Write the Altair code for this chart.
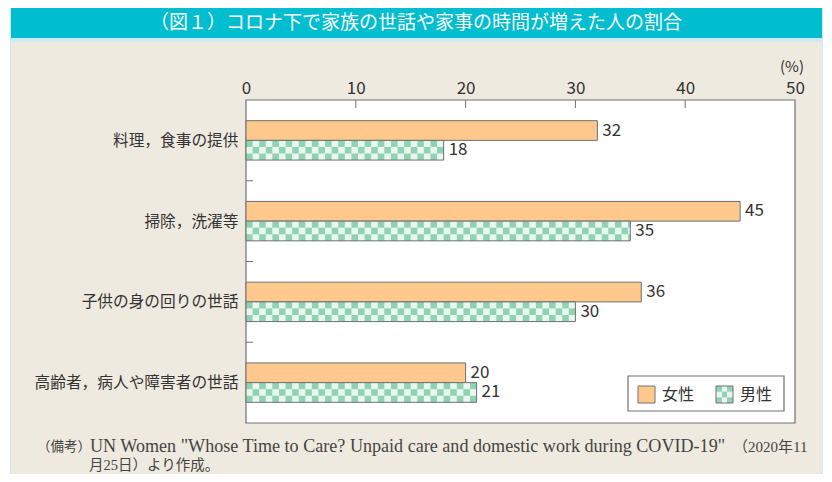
import json
import math
import altair as alt

# ---------------- data ----------------
categories = ["料理，食事の提供", "掃除，洗濯等", "子供の身の回りの世話", "高齢者，病人や障害者の世話"]
female = [32, 45, 36, 20]
male = [18, 35, 30, 21]
series = ["女性", "男性"]
x_ticks = [0, 10, 20, 30, 40, 50]

title_text = "（図１）コロナ下で家族の世話や家事の時間が増えた人の割合"
note_head = "（備考）"
note_latin = 'UN Women "Whose Time to Care? Unpaid care and domestic work during COVID-19"'
note_tail = "（2020年11"
note_line2 = "月25日）より作成。"
unit_text = "(%)"

# ---------------- style ----------------
W, H = 549, 323
HB = 0.244          # bar thickness in category units
CW = 0.6            # checker cell width (x units)
ORANGE = "#FFC88C"
GREEN = "#8FD3B3"
LIGHT = "#E9F7F0"
EDGE = "#707070"
TEAL = "#00BDCF"
BEIGE = "#EFEAE0"
FRAME = "#CDEBEF"
TXT = "#333333"
JP = "Noto Sans CJK JP"
SERIF = "Liberation Serif, 'Noto Sans CJK JP'"

bars = []
for i, c in enumerate(categories):
    bars.append({"cat": c, "sex": series[0], "v": female[i], "x0": 0,
                 "y0": i + 0.5 - HB, "y1": i + 0.5, "ym": i + 0.5 - HB / 2})
    bars.append({"cat": c, "sex": series[1], "v": male[i], "x0": 0,
                 "y0": i + 0.5, "y1": i + 0.5 + HB, "ym": i + 0.5 + HB / 2})

cells = []
for i, v in enumerate(male):
    n = int(math.ceil(v / CW))
    for r in range(3):
        for k in range(n):
            if (k + r) % 2 == 0:
                cells.append({"x0": k * CW, "x1": min(v, (k + 1) * CW),
                              "y0": i + 0.5 + r * HB / 3, "y1": i + 0.5 + (r + 1) * HB / 3})

one = alt.Data(values=[{"a": 1}])
xs = alt.Scale(domain=[0, 50], nice=False, zero=False)
ys = alt.Scale(domain=[0, 4], reverse=True, nice=False, zero=False)

label_expr = json.dumps(categories, ensure_ascii=False) + "[floor(datum.value)]"
XAXIS = alt.Axis(orient="top", values=x_ticks, ticks=False, domain=False, grid=False,
                 labelFontSize=17, labelFont=JP, labelColor=TXT, labelPadding=3,
                 labelFlush=False, labelBound=False, zindex=3, title=None)
YAXIS = alt.Axis(orient="left", values=[i + 0.5 for i in range(len(categories))],
                 labelExpr=label_expr, ticks=False, domain=False, grid=False,
                 labelFontSize=15.7, labelFont=JP, labelColor=TXT, labelPadding=8,
                 labelOverlap=False, labelLimit=400, zindex=3, title=None)


def X(f):
    return alt.X(f, scale=xs, axis=XAXIS)


def Y(f):
    return alt.Y(f, scale=ys, axis=YAXIS)


female_data = alt.Data(values=[b for b in bars if b["sex"] == series[0]])
male_data = alt.Data(values=[b for b in bars if b["sex"] == series[1]])
all_data = alt.Data(values=bars)


def box(x, x2, y, y2, **kw):
    return alt.Chart(one).mark_rect(**kw).encode(
        x=alt.value(x), x2=alt.value(x2), y=alt.value(y), y2=alt.value(y2))


def label(text, x, y, **kw):
    return alt.Chart(one).mark_text(text=text, **kw).encode(x=alt.value(x), y=alt.value(y))


frame = box(-236, 577, -92, 374, fill=FRAME)
teal = box(-235, 576, -92, -62, fill=TEAL)
beige = box(-235, 576, -58, 374, fill=BEIGE)
plotbg = box(0, W, 0, H, fill="white", stroke=EDGE, strokeWidth=1.2)
title = label(title_text, 170, -77, font=JP, fontSize=19, color="white", align="center", baseline="middle")
unit = label(unit_text, 546, -33, font=JP, fontSize=15, color=TXT, align="center", baseline="middle")
n_head = label(note_head, -209, 347, font=SERIF, fontSize=13.5, color="#444444", align="left", baseline="middle")
n_latin = label(note_latin, -156, 347, font=SERIF, fontSize=18.1, color="#444444", align="left", baseline="middle")
n_tail = label(note_tail, 487, 347, font=SERIF, fontSize=15, color="#444444", align="left", baseline="middle")
note2 = label(note_line2, -157, 366, font=SERIF, fontSize=14.5, color="#444444", align="left", baseline="middle")

top_ticks = alt.Chart(alt.Data(values=[{"t": t} for t in x_ticks[1:-1]])).mark_rule(
    color=EDGE, strokeWidth=1).encode(x=X("t:Q"), y=alt.value(0), y2=alt.value(8))
left_ticks = alt.Chart(alt.Data(values=[{"b": b} for b in range(1, len(categories))])).mark_rule(
    color=EDGE, strokeWidth=1).encode(y=Y("b:Q"), x=alt.value(0), x2=alt.value(7))

fbars = alt.Chart(female_data).mark_rect(fill=ORANGE, stroke=EDGE, strokeWidth=1).encode(
    x=X("x0:Q"), x2="v:Q", y=Y("y0:Q"), y2="y1:Q")
mbase = alt.Chart(male_data).mark_rect(fill=LIGHT).encode(
    x=X("x0:Q"), x2="v:Q", y=Y("y0:Q"), y2="y1:Q")
mcells = alt.Chart(alt.Data(values=cells)).mark_rect(fill=GREEN).encode(
    x=X("x0:Q"), x2="x1:Q", y=Y("y0:Q"), y2="y1:Q")
moutline = alt.Chart(male_data).mark_rect(fillOpacity=0, stroke=EDGE, strokeWidth=1).encode(
    x=X("x0:Q"), x2="v:Q", y=Y("y0:Q"), y2="y1:Q")

vlabels = alt.Chart(all_data).mark_text(font=JP, fontSize=17, color=TXT, align="left",
                                        baseline="middle", dx=5).encode(
    x=X("v:Q"), y=Y("ym:Q"), text="v:Q")

# legend (manual, bottom-right of plot)
lg_box = box(382, 538, 276, 311, fill="white", stroke=EDGE, strokeWidth=1.2)
sw_f = box(392, 409, 286, 303, fill=ORANGE, stroke=EDGE, strokeWidth=1)


def checker_grad(first, second):
    stops = []
    cols = [first, second, first]
    for j, col in enumerate(cols):
        stops.append(alt.GradientStop(offset=j / 3, color=col))
        stops.append(alt.GradientStop(offset=(j + 1) / 3, color=col))
    return alt.LinearGradient(gradient="linear", stops=stops, x1=0, x2=1, y1=0, y2=0)


sw_m1 = box(470, 487, 286, 303, fill=checker_grad(GREEN, LIGHT))
sw_m2 = box(470, 487, 291.67, 297.33, fill=checker_grad(LIGHT, GREEN))
sw_m3 = box(470, 487, 286, 303, fillOpacity=0, stroke=EDGE, strokeWidth=1)
lt_f = label(series[0], 416, 295, font=JP, fontSize=16, color=TXT, align="left", baseline="middle")
lt_m = label(series[1], 494, 295, font=JP, fontSize=16, color=TXT, align="left", baseline="middle")

chart = alt.layer(
    frame, teal, beige, title, plotbg, top_ticks, left_ticks,
    fbars, mbase, mcells, moutline, vlabels,
    lg_box, sw_f, sw_m1, sw_m2, sw_m3, lt_f, lt_m,
    unit, n_head, n_latin, n_tail, note2,
).properties(
    width=W, height=H,
    autosize=alt.AutoSizeParams(type="none"),
    padding={"left": 238, "top": 92, "right": 29, "bottom": 51},
    background="white",
).configure_view(stroke=None)

chart.save("out.html", embed_options={"renderer": "svg", "actions": False})
